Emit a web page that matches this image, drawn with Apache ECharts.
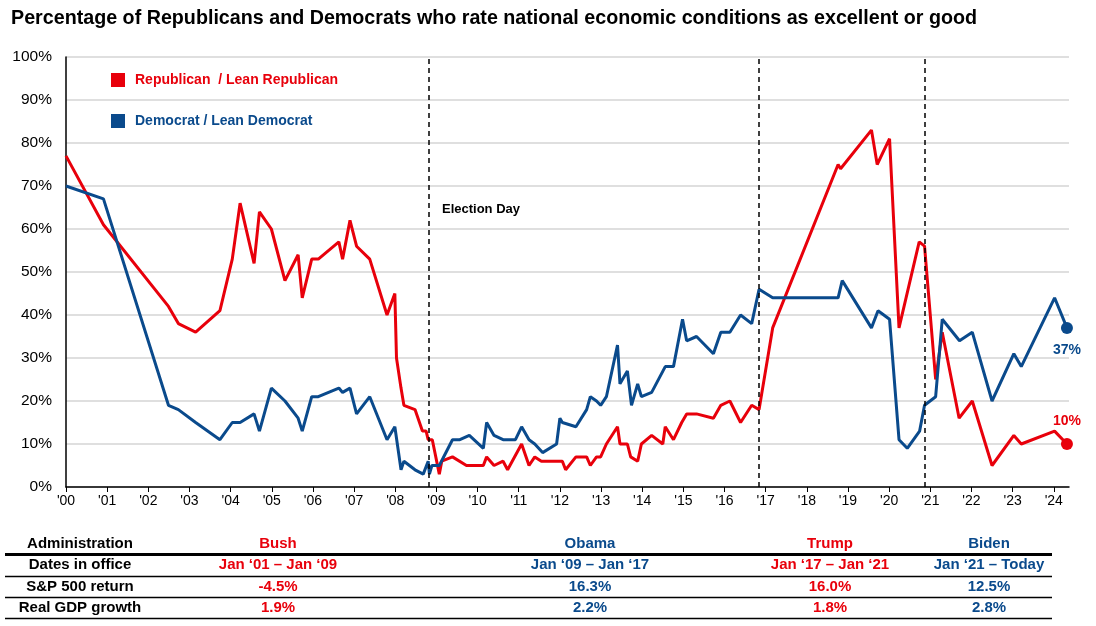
<!DOCTYPE html>
<html>
<head>
<meta charset="utf-8">
<script src="https://cdn.jsdelivr.net/npm/echarts@6/dist/echarts.min.js"></script>
<style>
html,body{margin:0;padding:0;background:#fff;}
#chart{width:1096px;height:626px;}
</style>
</head>
<body>
<div id="chart"></div>
<script>
// ---- Data ----
const titleText = 'Percentage of Republicans and Democrats who rate national economic conditions as excellent or good';
const repName = 'Republican  / Lean Republican';
const demName = 'Democrat / Lean Democrat';

const repDates = [2000.0,2000.91,2002.49,2002.73,2003.15,2003.74,2004.04,2004.23,2004.57,2004.70,2004.99,2005.32,2005.64,2005.74,2005.97,2006.13,2006.63,2006.72,2006.90,2007.06,2007.38,2007.80,2007.99,2008.03,2008.14,2008.21,2008.48,2008.66,2008.75,2008.80,2008.90,2009.07,2009.13,2009.39,2009.73,2010.14,2010.22,2010.40,2010.62,2010.73,2011.07,2011.25,2011.39,2011.55,2011.76,2012.06,2012.14,2012.39,2012.65,2012.74,2012.89,2012.99,2013.13,2013.40,2013.46,2013.64,2013.72,2013.89,2013.98,2014.23,2014.50,2014.56,2014.76,2014.96,2015.08,2015.32,2015.73,2015.91,2016.13,2016.39,2016.66,2016.84,2017.17,2018.76,2018.82,2019.57,2019.71,2020.01,2020.24,2020.73,2020.86,2021.13,2021.29,2021.70,2022.02,2022.50,2023.03,2023.21,2024.02,2024.32];
const repValues = [77,61,42,38,36,41,53,66,52,64,60,48,54,44,53,53,57,53,62,56,53,40,45,30,23,19,18,13,13,11,11,3,6,7,5,5,7,5,6,4,10,5,7,6,6,6,4,7,7,5,7,7,10,14,10,10,7,6,10,12,10,14,11,15,17,17,16,19,20,15,19,18,37,75,74,83,75,81,37,57,56,25,36,16,20,5,12,10,13,10];

const demDates = [2000.0,2000.91,2002.49,2002.73,2003.15,2003.74,2004.04,2004.23,2004.57,2004.70,2004.99,2005.32,2005.64,2005.74,2005.97,2006.13,2006.63,2006.72,2006.90,2007.06,2007.38,2007.80,2007.99,2008.14,2008.21,2008.48,2008.68,2008.80,2008.83,2008.89,2009.07,2009.39,2009.57,2009.80,2010.14,2010.22,2010.40,2010.62,2010.92,2011.07,2011.25,2011.39,2011.58,2011.92,2012.00,2012.06,2012.39,2012.65,2012.74,2012.89,2012.99,2013.13,2013.40,2013.46,2013.64,2013.74,2013.89,2013.98,2014.23,2014.56,2014.76,2014.98,2015.08,2015.32,2015.73,2015.91,2016.13,2016.39,2016.66,2016.84,2017.17,2018.76,2018.86,2019.57,2019.73,2020.01,2020.24,2020.44,2020.74,2020.86,2021.13,2021.29,2021.71,2022.02,2022.50,2023.03,2023.21,2024.02,2024.32];
const demValues = [70,67,19,18,15,11,15,15,17,13,23,20,16,13,21,21,23,22,23,17,21,11,14,4,6,4,3,6,3,5,5,11,11,12,9,15,12,11,11,14,11,10,8,10,16,15,14,18,21,20,19,21,33,24,27,19,24,21,22,28,28,39,34,35,31,36,36,40,38,46,44,44,48,37,41,39,11,9,13,19,21,39,34,36,20,31,28,44,37];

const electionDays = [2008.82, 2016.84, 2020.86];
const electionLabel = 'Election Day';

const tableRowLabels = ['Administration', 'Dates in office', 'S&P 500 return', 'Real GDP growth'];
const adminNames = ['Bush', 'Obama', 'Trump', 'Biden'];
const adminDates = ['Jan \u201801 \u2013 Jan \u201809', 'Jan \u201809 \u2013 Jan \u201817', 'Jan \u201817 \u2013 Jan \u201821', 'Jan \u201821 \u2013 Today'];
const spReturns = ['-4.5%', '16.3%', '16.0%', '12.5%'];
const gdpGrowth = ['1.9%', '2.2%', '1.8%', '2.8%'];
const adminParty = ['rep', 'dem', 'rep', 'dem'];

// ---- Styles ----
const RED = '#e8000b';
const BLUE = '#0a4a8c';
const FONT = 'Liberation Sans, Arial, sans-serif';

const zip = (xs, ys) => xs.map((x, i) => [x, ys[i]]);
const repData = zip(repDates, repValues);
const demData = zip(demDates, demValues);

const chart = echarts.init(document.getElementById('chart'));

// table graphics
const colX = [80, 278, 590, 830, 989];
const rowY = [544, 565, 587, 608];
const tableG = [];
const rows = [adminNames, adminDates, spReturns, gdpGrowth];
tableRowLabels.forEach((t, r) => {
  tableG.push({type:'text', x: colX[0], y: rowY[r], style:{text:t, fill:'#000', font:'bold 15px '+FONT, textAlign:'center', textVerticalAlign:'middle'}});
  rows[r].forEach((v, c) => {
    tableG.push({type:'text', x: colX[c+1], y: rowY[r], style:{text:v, fill: adminParty[c]==='rep'?RED:BLUE, font:'bold 15px '+FONT, textAlign:'center', textVerticalAlign:'middle'}});
  });
});
tableG.push({type:'line', shape:{x1:5,y1:554.5,x2:1052,y2:554.5}, style:{stroke:'#000', lineWidth:3}});
[576.5, 597.5, 618.5].forEach(y => tableG.push({type:'line', shape:{x1:5,y1:y,x2:1052,y2:y}, style:{stroke:'#000', lineWidth:1.3}}));
tableG.push({type:'text', x: 442, y: 209, style:{text: electionLabel, fill:'#000', font:'bold 13px '+FONT, textVerticalAlign:'middle'}});

const option = {
  animation: false,
  backgroundColor: '#fff',
  title: {
    text: titleText, left: 6, top: 4,
    textStyle: {fontFamily: FONT, fontWeight: 'bold', fontSize: 19.7, color: '#000'}
  },
  legend: {
    orient: 'vertical', left: 106, top: 68, itemGap: 27,
    itemWidth: 14, itemHeight: 14, icon: 'rect',
    textStyle: {fontFamily: FONT, fontWeight: 'bold', fontSize: 14, padding: [0,0,0,5]},
    data: [
      {name: repName, textStyle: {color: RED}},
      {name: demName, textStyle: {color: BLUE}}
    ],
    selectedMode: false
  },
  grid: {left: 66, right: 27, top: 57, bottom: 139, containLabel: false},
  xAxis: {
    type: 'value', min: 2000, max: 2024.37, interval: 1,
    axisLine: {show: true, onZero: false, lineStyle: {color: '#000', width: 1.5}},
    axisTick: {show: true, length: 5, lineStyle: {color: '#000', width: 1}},
    axisLabel: {
      color: '#000', fontFamily: FONT, fontSize: 14, margin: 7,
      showMaxLabel: false,
      formatter: v => (Math.abs(v - Math.round(v)) < 1e-6 ? "'" + String(Math.round(v)).slice(2) : '')
    },
    splitLine: {show: false}
  },
  yAxis: {
    type: 'value', min: 0, max: 100, interval: 10,
    axisLine: {show: true, lineStyle: {color: '#000', width: 1.5}},
    axisTick: {show: false},
    axisLabel: {color: '#000', fontFamily: FONT, fontSize: 15.5, margin: 14, formatter: '{value}%'},
    splitLine: {lineStyle: {color: '#d4d4d4', width: 1.5}}
  },
  series: [
    {
      name: repName, type: 'line', data: repData, color: RED,
      showSymbol: false, symbol: 'none', lineStyle: {width: 3, color: RED}, z: 3,
      markLine: {
        silent: true, symbol: 'none',
        lineStyle: {color: '#000', type: [5, 4], width: 1.5},
        label: {show: false},
        data: electionDays.map(d => ({xAxis: d}))
      },
      markPoint: {
        symbol: 'circle', symbolSize: 12,
        itemStyle: {color: RED},
        label: {show: true, position: 'top', distance: 10, color: RED, fontFamily: FONT, fontWeight: 'bold', fontSize: 14,
          formatter: p => p.value + '%'},
        data: [{coord: repData[repData.length-1], value: repValues[repValues.length-1]}]
      }
    },
    {
      name: demName, type: 'line', data: demData, color: BLUE,
      showSymbol: false, symbol: 'none', lineStyle: {width: 3, color: BLUE}, z: 4,
      markPoint: {
        symbol: 'circle', symbolSize: 12,
        itemStyle: {color: BLUE},
        label: {show: true, position: 'bottom', distance: 9, color: BLUE, fontFamily: FONT, fontWeight: 'bold', fontSize: 14,
          formatter: p => p.value + '%'},
        data: [{coord: demData[demData.length-1], value: demValues[demValues.length-1]}]
      }
    }
  ],
  graphic: tableG
};
chart.setOption(option);
</script>
</body>
</html>
